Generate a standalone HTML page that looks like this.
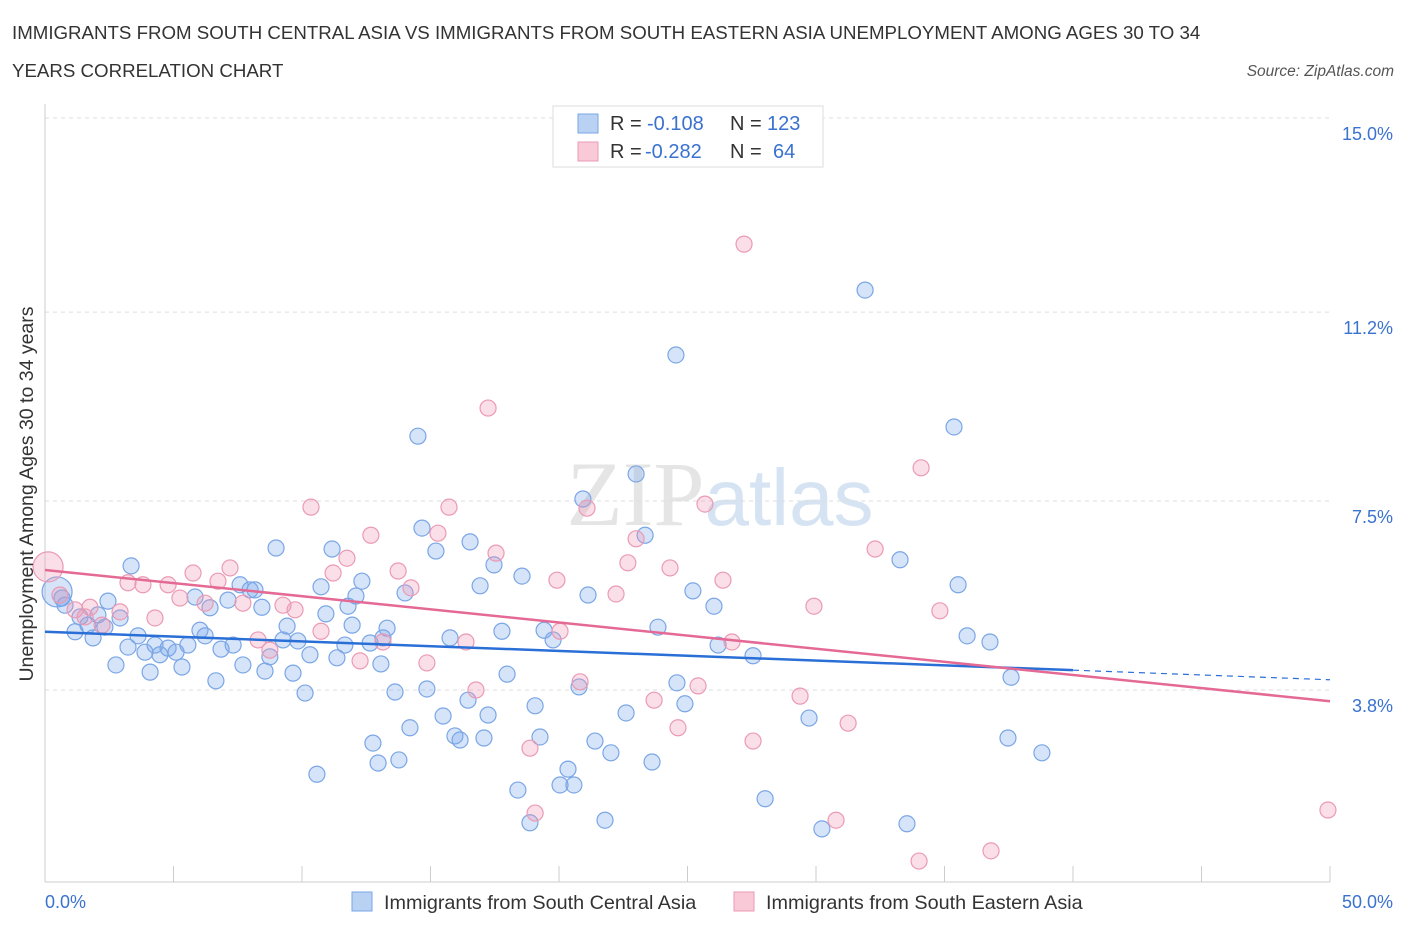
<!DOCTYPE html>
<html><head><meta charset="utf-8"><style>
body{margin:0;background:#fff;font-family:"Liberation Sans",sans-serif;}
</style></head><body>
<svg width="1406" height="930" viewBox="0 0 1406 930" xmlns="http://www.w3.org/2000/svg" style="font-family:'Liberation Sans',sans-serif">
<text x="12" y="39" font-size="18.7" fill="#333">IMMIGRANTS FROM SOUTH CENTRAL ASIA VS IMMIGRANTS FROM SOUTH EASTERN ASIA UNEMPLOYMENT AMONG AGES 30 TO 34</text>
<text x="12" y="77" font-size="18.7" fill="#333">YEARS CORRELATION CHART</text>
<text x="1394" y="76" font-size="15.5" fill="#555" text-anchor="end" font-style="italic">Source: ZipAtlas.com</text>
<text x="720" y="525" font-size="92" fill="#e5e5e5" text-anchor="middle" font-family="Liberation Serif">ZIP<tspan fill="#d5e3f3" font-family="Liberation Sans" font-size="80">atlas</tspan></text>
<g id="grid"></g>
<g id="axes"></g>
<g id="pts"></g>
<g id="trend"></g>
<text transform="translate(33,494) rotate(-90)" font-size="19.5" fill="#333" text-anchor="middle">Unemployment Among Ages 30 to 34 years</text>
<g>
<rect x="553" y="106" width="270" height="61" fill="#fff" stroke="#ddd"/>
<rect x="578" y="114" width="20" height="19" fill="#b9d2f4" stroke="#7aa6e6"/>
<rect x="578" y="142" width="20" height="19" fill="#f9c9d7" stroke="#eb9ab4"/>
<text x="610" y="130" font-size="20" fill="#333">R =</text><text x="647" y="130" font-size="20" fill="#3a72d0">-0.108</text>
<text x="730" y="130" font-size="20" fill="#333">N =</text><text x="767" y="130" font-size="20" fill="#3a72d0">123</text>
<text x="610" y="158" font-size="20" fill="#333">R =</text><text x="645" y="158" font-size="20" fill="#3a72d0">-0.282</text>
<text x="730" y="158" font-size="20" fill="#333">N =</text><text x="773" y="158" font-size="20" fill="#3a72d0">64</text>
</g>
<g>
<rect x="352" y="892" width="20" height="19" fill="#b9d2f4" stroke="#7aa6e6"/>
<text x="384" y="909" font-size="19.8" fill="#333">Immigrants from South Central Asia</text>
<rect x="734" y="892" width="20" height="19" fill="#f9c9d7" stroke="#eb9ab4"/>
<text x="766" y="909" font-size="19.8" fill="#333">Immigrants from South Eastern Asia</text>
</g>
</svg>
<script>
const yTicks=[3.8,7.5,11.2,15.0];
const yTickLabels=["3.8%","7.5%","11.2%","15.0%"];
const xTickVals=[0,5,10,15,20,25,30,35,40,45,50];
const xEndLabels=["0.0%","50.0%"];
const blueX=[0.47,0.66,1.17,0.78,1.36,1.67,1.87,2.06,2.33,2.45,2.92,2.76,3.35,3.23,3.62,3.89,4.09,4.28,4.47,4.79,5.10,5.33,5.56,5.84,6.03,6.23,6.42,6.65,6.85,7.12,7.32,7.59,7.70,7.98,8.17,8.44,8.56,8.75,8.99,9.26,9.42,9.65,9.84,10.12,10.31,10.58,10.74,10.93,11.17,11.36,11.67,11.79,11.95,12.10,12.33,12.65,12.76,12.96,13.07,13.15,13.31,13.62,13.77,14.01,14.20,14.51,14.67,14.86,15.21,15.49,15.76,15.95,16.15,16.46,16.54,16.93,17.08,17.24,17.47,17.78,17.98,18.40,18.56,18.87,19.07,19.26,19.42,19.77,20.04,20.35,20.58,20.78,20.93,21.13,21.40,21.79,22.02,22.61,23.00,23.35,23.62,23.85,24.55,24.59,24.90,25.21,26.03,26.19,27.55,28.02,29.73,30.23,31.91,33.27,33.54,35.37,35.53,35.88,36.77,37.47,37.59,38.79];
const blueY=[5.72,5.60,4.94,5.46,5.23,5.07,4.82,5.27,5.03,5.54,5.21,4.29,6.23,4.64,4.86,4.54,4.15,4.68,4.49,4.62,4.54,4.25,4.68,5.62,4.97,4.86,5.41,3.98,4.60,5.56,4.68,5.86,4.29,5.76,5.76,5.42,4.17,4.45,6.58,4.78,5.05,4.13,4.76,3.74,4.49,2.15,5.82,5.29,6.56,4.43,4.68,5.44,5.07,5.64,5.93,4.72,2.76,2.37,4.31,4.82,5.01,3.76,2.43,5.70,3.06,8.77,6.97,3.82,6.52,3.29,4.82,2.90,2.82,3.60,6.70,5.84,2.86,3.31,6.25,4.95,4.11,1.84,6.03,1.20,3.49,2.88,4.97,4.78,1.94,2.25,1.94,3.86,7.54,5.66,2.80,1.25,2.57,3.35,8.03,6.83,2.39,5.03,10.36,3.94,3.53,5.74,5.44,4.68,4.47,1.67,3.25,1.08,11.63,6.35,1.18,8.95,5.86,4.86,4.74,2.86,4.05,2.57];
const pinkX=[0.12,0.58,1.17,1.56,1.75,2.22,2.92,3.23,3.81,4.28,4.79,5.25,5.76,6.23,6.73,7.20,7.70,8.29,8.75,9.26,9.73,10.35,10.74,11.21,11.75,12.26,12.68,13.15,13.74,14.24,14.86,15.29,15.72,16.38,16.77,17.24,17.55,18.87,19.07,19.92,20.04,20.82,21.09,22.22,22.68,23.00,23.70,24.32,24.63,25.41,25.68,26.38,26.73,27.20,27.55,29.38,29.92,30.78,31.25,32.30,34.01,34.09,34.82,36.81,49.92];
const pinkY=[6.21,5.66,5.37,5.23,5.42,5.07,5.33,5.90,5.86,5.21,5.86,5.60,6.09,5.50,5.93,6.19,5.50,4.78,4.58,5.46,5.37,7.38,4.95,6.09,6.38,4.37,6.83,4.74,6.13,5.80,4.33,6.87,7.38,4.74,3.80,9.32,6.48,2.66,1.39,5.95,4.95,3.96,7.36,5.68,6.29,6.76,3.60,6.19,3.06,3.88,7.44,5.95,4.74,12.53,2.80,3.68,5.44,1.25,3.15,6.56,0.45,8.15,5.35,0.65,1.45];
const blueTrend=[4.94,4.00];
const pinkTrend=[6.15,3.58];
const NS="http://www.w3.org/2000/svg";
const X=v=>45+v*25.7, Y=v=>118+(15-v)*51.07;
function mk(t,a,p){const e=document.createElementNS(NS,t);for(const k in a)e.setAttribute(k,a[k]);p.appendChild(e);return e;}
const grid=document.getElementById('grid'),axes=document.getElementById('axes'),pts=document.getElementById('pts'),trend=document.getElementById('trend');
yTicks.forEach((v,i)=>{
 const l=mk('line',{x1:45,x2:1330,y1:Y(v),y2:Y(v),stroke:'#ddd','stroke-dasharray':'4,4'},grid);
 
 
 const t=mk('text',{x:1393,y:Y(v)+22,'font-size':18,fill:'#3a72d0','text-anchor':'end'},axes);
 t.textContent=yTickLabels[i];
 
 
});
mk('line',{x1:45,x2:45,y1:104,y2:882,stroke:'#ccc'},axes);
mk('line',{x1:45,x2:1330,y1:882,y2:882,stroke:'#ccc'},axes);
xTickVals.forEach(v=>{const l=mk('line',{x1:X(v),x2:X(v),y1:882,y2:866,stroke:'#ccc'},axes);
 
 });
[[0,'start',45],[50,'end',1393]].forEach((d,i)=>{const t=mk('text',{x:d[2],y:908,'font-size':18,fill:'#3a72d0','text-anchor':d[1]},axes);t.textContent=xEndLabels[i];
 
 });
function dots(xs,ys,fill,stroke,name){xs.forEach((x,i)=>{const r=(x<0.5)?15:8;
 const c=mk('circle',{cx:X(x),cy:Y(ys[i]),r:r,fill:fill,stroke:stroke,'stroke-width':1.2},pts);
 
 });}
dots(blueX,blueY,'rgba(120,165,235,0.3)','#7aa6e6','point-south-central');
dots(pinkX,pinkY,'rgba(240,150,180,0.3)','#eb9ab4','point-south-eastern');
const b40=blueTrend[0]+(blueTrend[1]-blueTrend[0])*0.8;
let l=mk('line',{x1:X(0),y1:Y(blueTrend[0]),x2:X(40),y2:Y(b40),stroke:'#2a6fd6','stroke-width':2.5},trend);


l=mk('line',{x1:X(40),y1:Y(b40),x2:X(50),y2:Y(blueTrend[1]),stroke:'#2a6fd6','stroke-width':1.2,'stroke-dasharray':'6,5'},trend);


l=mk('line',{x1:X(0),y1:Y(pinkTrend[0]),x2:X(50),y2:Y(pinkTrend[1]),stroke:'#e46a95','stroke-width':2.5},trend);


</script>
</body></html>
